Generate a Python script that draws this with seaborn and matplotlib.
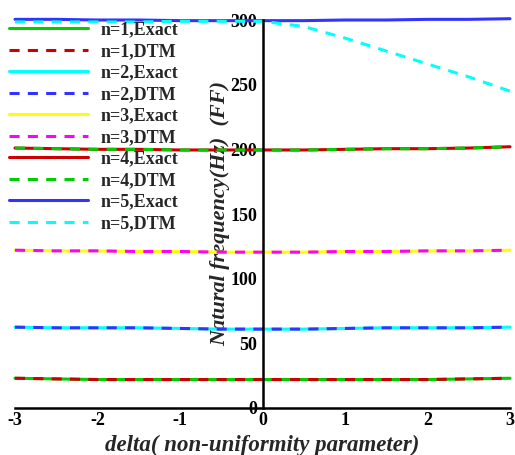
import seaborn as sns
from matplotlib import pyplot as plt
from matplotlib.ticker import MultipleLocator
import pandas as pd

# Data
delta = [-3, -2.5, -2, -1.5, -1, -0.5, 0, 0.5, 1, 1.5, 2, 2.5, 3]
n1_exact = [23, 22.5, 22, 22, 22, 22, 22, 22, 22, 22, 22, 22.5, 23]
n1_dtm = [23, 22.5, 22, 22, 22, 22, 22, 22, 22, 22, 22, 22.5, 23]
n2_exact = [62.5, 62, 62, 62, 61.5, 61, 61, 61, 61.5, 62, 62, 62, 62.5]
n2_dtm = [62.5, 62, 62, 62, 61.5, 61, 61, 61, 61.5, 62, 62, 62, 62.5]
n3_exact = [122, 121.5, 121.5, 121, 121, 120.5, 120.5, 120.5, 121, 121, 121.5, 121.5, 122]
n3_dtm = [122, 121.5, 121.5, 121, 121, 120.5, 120.5, 120.5, 121, 121, 121.5, 121.5, 122]
n4_exact = [201, 200.5, 200, 200, 199.5, 199.5, 199.5, 199.5, 200, 200.5, 200.5, 201, 202]
n4_dtm = [201, 200.5, 200, 200, 199.5, 199.5, 199.5, 199.5, 200, 200.5, 200.5, 201, 202]
n5_exact = [300.5, 300.5, 300, 300, 299.5, 299.5, 299.5, 299.5, 300, 300, 300.5, 300.5, 301]
n5_dtm = [298.5, 298.5, 298.5, 298.5, 299, 299, 299, 295, 286, 276, 266, 256, 245]

series = [
    ("n=1,Exact", n1_exact, "#00cc00", "-"),
    ("n=1,DTM", n1_dtm, "#cc0000", "--"),
    ("n=2,Exact", n2_exact, "#00ffff", "-"),
    ("n=2,DTM", n2_dtm, "#3333ff", "--"),
    ("n=3,Exact", n3_exact, "#ffff00", "-"),
    ("n=3,DTM", n3_dtm, "#ff00ff", "--"),
    ("n=4,Exact", n4_exact, "#cc0000", "-"),
    ("n=4,DTM", n4_dtm, "#00cc00", "--"),
    ("n=5,Exact", n5_exact, "#3333ff", "-"),
    ("n=5,DTM", n5_dtm, "#00ffff", "--"),
]

sns.set_theme(style="white")
plt.rcParams['font.family'] = ['Liberation Serif', 'DejaVu Serif']
plt.rcParams['font.weight'] = 'bold'
plt.rcParams['axes.unicode_minus'] = False

fig = plt.figure(figsize=(5.15, 4.55), dpi=100)
ax = fig.add_axes([15 / 515, 47 / 455, 495 / 515, 388 / 455])

for name, vals, color, ls in series:
    df = pd.DataFrame({"delta": delta, "freq": vals})
    style = "-" if ls == "-" else (0, (3.3, 2.7))
    sns.lineplot(data=df, x="delta", y="freq", color=color, linestyle=style,
                 linewidth=2.2, label=name, ax=ax, clip_on=False)

ax.set_xlim(-3, 3)
ax.set_ylim(0, 300)
ax.spines['left'].set_position(('data', 0))
ax.spines['top'].set_visible(False)
ax.spines['right'].set_visible(False)
for s in ('left', 'bottom'):
    ax.spines[s].set_linewidth(1.8)
    ax.spines[s].set_color('black')

ax.xaxis.set_major_locator(MultipleLocator(1))
ax.xaxis.set_minor_locator(MultipleLocator(0.2))
ax.yaxis.set_major_locator(MultipleLocator(50))
ax.yaxis.set_minor_locator(MultipleLocator(10))
ax.tick_params(which='both', direction='in', colors='black', labelsize=13)
ax.tick_params(which='major', length=8, width=1.8)
ax.tick_params(which='minor', length=4, width=1.2)
ax.tick_params(axis='y', which='both', pad=4)
ax.tick_params(axis='x', which='both', pad=3)
for lab in ax.get_xticklabels() + ax.get_yticklabels():
    lab.set_fontweight('bold')

ax.set_xlabel("delta( non-uniformity parameter)", fontsize=16.5, fontweight='bold',
              fontstyle='italic', labelpad=4)
ax.set_ylabel("Natural frequency(Hz)  (FF)", fontsize=16, fontweight='bold',
              fontstyle='italic', labelpad=0)

ax.legend(loc='upper left', bbox_to_anchor=(-0.027, 1.015), frameon=False,
          prop={'size': 13, 'weight': 'bold'}, handlelength=4.4,
          handletextpad=0.7, labelspacing=0.25, borderaxespad=0)

plt.savefig("out.png", dpi=100)
